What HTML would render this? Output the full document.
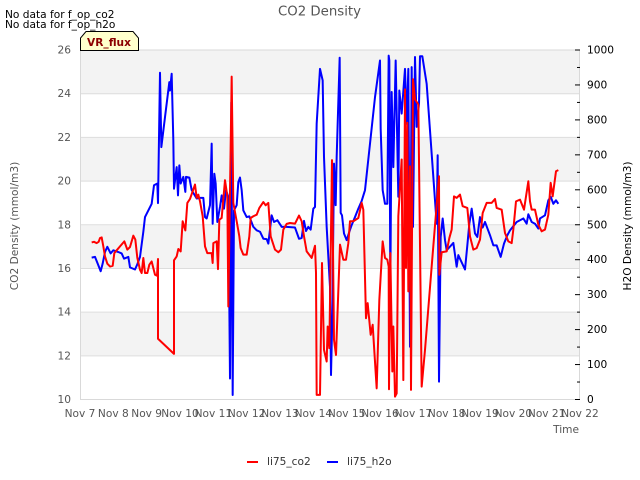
<!DOCTYPE html>
<html>
<head>
<meta charset="utf-8">
<title>CO2 Density</title>
<style>
html,body{margin:0;padding:0;background:#fff;width:640px;height:480px;overflow:hidden}
svg{display:block}
text{font-family:"DejaVu Sans","Liberation Sans",sans-serif;font-size:10.6px}
</style>
</head>
<body>
<svg id="chart" width="640" height="480" viewBox="0 0 640 480" xmlns="http://www.w3.org/2000/svg">
  <rect x="0" y="0" width="640" height="480" fill="#fff"/>
  <g id="bands"></g>
  <g id="grid"></g>
  <rect x="80.5" y="50" width="499" height="349.5" fill="none" stroke="#d9d9d9" stroke-width="1"/>
  <g id="right-ticks"></g>
  <g id="left-labels"></g>
  <g id="right-labels"></g>
  <g id="x-labels"></g>
  <path id="line-h2o" fill="none" stroke="#0000ff" stroke-width="2" stroke-linejoin="round"/>
  <path id="line-co2" fill="none" stroke="#ff0000" stroke-width="2" stroke-linejoin="round"/>
  <text x="319.5" y="15.5" text-anchor="middle" fill="#555555" style="font-size:13.3px">CO2 Density</text>
  <text x="5" y="18" fill="#000000">No data for f_op_co2</text>
  <text x="5" y="28" fill="#000000">No data for f_op_h2o</text>
  <g>
    <polygon points="80.5,50.5 80.5,38 86,31.5 133,31.5 138.5,38 138.5,50.5" fill="#ffffcc" stroke="#000000" stroke-width="1"/>
    <text x="109" y="46" text-anchor="middle" fill="#8b0000" style="font-weight:bold">VR_flux</text>
  </g>
  <text transform="translate(18,226) rotate(-90)" text-anchor="middle" fill="#555555">CO2 Density (mmol/m3)</text>
  <text transform="translate(631,226) rotate(-90)" text-anchor="middle" fill="#000000">H2O Density (mmol/m3)</text>
  <text x="579" y="433" text-anchor="end" fill="#555555">Time</text>
  <g>
    <g>
      <line x1="247" y1="462" x2="258" y2="462" stroke="#ff0000" stroke-width="2"/>
      <text x="267" y="465" fill="#333333">li75_co2</text>
    </g>
    <g>
      <line x1="327" y1="462" x2="338" y2="462" stroke="#0000ff" stroke-width="2"/>
      <text x="347" y="465" fill="#333333">li75_h2o</text>
    </g>
  </g>
</svg>
<script>
const xTickDays = [7,8,9,10,11,12,13,14,15,16,17,18,19,20,21,22];
const xTickLabels = ["Nov 7","Nov 8","Nov 9","Nov 10","Nov 11","Nov 12","Nov 13","Nov 14","Nov 15","Nov 16","Nov 17","Nov 18","Nov 19","Nov 20","Nov 21","Nov 22"];
const co2Ticks = [10,12,14,16,18,20,22,24,26];
const h2oMajorTicks = [0,100,200,300,400,500,600,700,800,900,1000];
const h2oMinorTicks = [50,150,250,350,450,550,650,750,850,950];

const co2Days = [7.35,7.42,7.50,7.56,7.60,7.65,7.70,7.75,7.82,7.90,7.98,8.03,8.10,8.20,8.33,8.42,8.50,8.60,8.66,8.72,8.80,8.85,8.90,8.95,9.02,9.08,9.15,9.25,9.31,9.34,9.34,9.82,9.82,9.90,9.95,10.02,10.08,10.16,10.22,10.30,10.45,10.50,10.55,10.60,10.68,10.75,10.82,10.95,10.98,11.00,11.10,11.14,11.18,11.25,11.35,11.42,11.45,11.55,11.60,11.70,11.78,11.82,11.90,12.00,12.08,12.12,12.20,12.30,12.38,12.50,12.57,12.65,12.72,12.85,12.95,13.03,13.10,13.20,13.30,13.45,13.57,13.65,13.72,13.80,13.95,14.05,14.08,14.10,14.20,14.26,14.32,14.40,14.43,14.48,14.56,14.62,14.68,14.80,14.90,14.98,15.05,15.10,15.20,15.35,15.45,15.50,15.58,15.63,15.72,15.78,15.90,15.98,16.08,16.15,16.22,16.26,16.27,16.31,16.37,16.40,16.45,16.50,16.55,16.65,16.70,16.75,16.78,16.82,16.85,16.90,16.93,16.99,17.05,17.15,17.25,17.35,17.55,17.77,17.78,17.85,18.00,18.08,18.15,18.22,18.30,18.40,18.48,18.62,18.70,18.80,18.90,19.00,19.08,19.20,19.35,19.45,19.50,19.65,19.75,19.85,19.95,20.00,20.08,20.20,20.32,20.45,20.50,20.55,20.65,20.75,20.85,20.95,21.05,21.12,21.18,21.28,21.35];
const co2Values = [17.19,17.22,17.16,17.22,17.39,17.42,17.01,16.55,16.22,16.09,16.12,16.70,16.83,17.01,17.24,16.86,16.98,17.50,17.32,16.48,15.94,15.79,16.48,15.79,15.79,16.17,16.32,15.71,15.67,16.43,12.78,12.09,16.37,16.55,16.89,16.78,18.16,17.74,19.00,19.18,19.84,19.23,19.38,19.07,18.39,17.01,16.70,16.70,16.25,17.16,17.24,15.97,18.23,18.31,20.04,19.30,14.26,24.78,19.00,18.16,17.47,16.93,16.63,16.63,17.47,18.31,18.39,18.46,18.77,19.04,18.89,19.00,17.47,16.86,16.74,16.86,17.78,18.04,18.08,18.05,18.42,18.16,17.47,16.78,16.48,17.04,15.79,10.21,10.21,16.25,12.27,11.74,13.34,12.35,20.96,12.73,12.04,17.09,16.40,16.40,17.16,18.16,18.16,18.31,19.00,18.69,13.72,14.41,12.96,13.42,10.51,14.56,17.24,16.48,16.40,16.09,10.47,16.70,11.28,13.34,10.13,10.28,18.39,20.99,10.89,24.20,16.02,22.67,14.95,20.68,10.44,24.66,23.74,23.51,10.59,12.27,16.09,20.22,15.71,16.74,16.78,17.39,17.78,19.30,19.23,19.38,18.85,18.77,17.47,16.86,16.93,17.32,18.54,19.00,19.00,19.18,18.77,18.69,17.62,17.24,17.16,17.78,19.07,19.15,18.69,19.99,19.07,18.69,18.69,18.00,17.70,17.78,18.46,19.92,19.30,20.45,20.50];

const h2oDays = [7.35,7.45,7.55,7.62,7.68,7.75,7.82,7.92,8.00,8.15,8.25,8.32,8.45,8.50,8.65,8.72,8.80,8.90,8.95,9.05,9.15,9.22,9.32,9.34,9.40,9.44,9.55,9.68,9.70,9.75,9.80,9.82,9.90,9.94,9.98,10.02,10.10,10.16,10.18,10.28,10.35,10.50,10.60,10.70,10.75,10.80,10.90,10.95,10.98,11.03,11.07,11.12,11.20,11.25,11.32,11.38,11.45,11.50,11.54,11.58,11.62,11.70,11.75,11.80,11.85,11.90,12.00,12.08,12.20,12.30,12.40,12.50,12.60,12.65,12.75,12.82,12.92,13.05,13.20,13.45,13.57,13.65,13.72,13.78,13.85,13.92,14.00,14.05,14.10,14.20,14.28,14.32,14.40,14.50,14.53,14.57,14.62,14.67,14.70,14.79,14.82,14.86,14.92,15.00,15.08,15.15,15.25,15.35,15.45,15.55,15.70,15.85,16.00,16.02,16.08,16.15,16.22,16.26,16.28,16.31,16.35,16.40,16.47,16.55,16.58,16.65,16.75,16.80,16.85,16.90,16.95,16.99,17.05,17.10,17.17,17.20,17.27,17.40,17.55,17.70,17.73,17.77,17.82,17.88,17.95,18.00,18.20,18.30,18.35,18.55,18.62,18.68,18.75,18.85,18.92,19.00,19.08,19.15,19.30,19.40,19.50,19.62,19.72,19.82,19.90,20.10,20.30,20.40,20.45,20.55,20.65,20.75,20.80,20.95,21.05,21.12,21.20,21.28,21.35];
const h2oValues = [406,408,384,367,389,422,437,418,427,422,418,403,408,378,372,387,408,480,522,541,560,613,618,562,935,722,808,908,884,932,741,603,665,584,670,618,637,594,637,635,599,575,577,577,522,518,556,732,503,646,618,508,551,584,546,599,580,60,850,13,541,556,622,635,599,541,522,524,494,484,480,460,459,446,527,508,513,494,494,492,460,462,511,482,494,486,546,551,789,946,913,694,494,322,70,237,675,556,694,978,534,527,475,456,480,499,522,546,568,599,732,865,970,775,599,560,560,984,970,313,880,665,970,580,884,818,946,789,946,151,951,494,980,780,846,982,982,903,703,503,699,51,465,518,456,427,448,380,413,372,441,503,546,475,465,522,492,508,470,441,441,408,446,470,484,508,518,503,530,508,503,489,518,527,570,580,560,570,560];

const SVGNS = 'http://www.w3.org/2000/svg';
const plotLeft = 80, plotRight = 580, plotTop = 50, plotBottom = 399.5;
function xScale(day){ return plotLeft + (day - 7) * (plotRight - plotLeft) / 15; }
function yCo2(v){ return plotBottom - (v - 10) * (plotBottom - plotTop) / 16; }
function yH2o(v){ return plotBottom - v * (plotBottom - plotTop) / 1000; }
function node(tag, parentId){
  const el = document.createElementNS(SVGNS, tag);
  document.getElementById(parentId).appendChild(el);
  return el;
}
function pathFrom(days, values, yFn){
  return days.map(function(d, i){
    return (i ? 'L' : 'M') + xScale(d).toFixed(2) + ' ' + yFn(values[i]).toFixed(2);
  }).join('');
}

co2Ticks.forEach(function(t, i){
  if (i < co2Ticks.length - 1 && i % 2 === 1) {
    const band = node('rect', 'bands');
    
    
    band.setAttribute('x', plotLeft);
    band.setAttribute('y', yCo2(co2Ticks[i + 1]));
    band.setAttribute('width', plotRight - plotLeft);
    band.setAttribute('height', yCo2(t) - yCo2(co2Ticks[i + 1]));
    band.setAttribute('fill', '#f3f3f3');
  }
  const grid = node('line', 'grid');
  
  
  grid.setAttribute('x1', plotLeft);
  grid.setAttribute('x2', plotRight);
  grid.setAttribute('y1', yCo2(t));
  grid.setAttribute('y2', yCo2(t));
  grid.setAttribute('stroke', '#dddddd');
  grid.setAttribute('stroke-width', '1');
  const label = node('text', 'left-labels');
  
  
  label.setAttribute('x', 71);
  label.setAttribute('y', yCo2(t) + 3.5);
  label.setAttribute('text-anchor', 'end');
  label.setAttribute('fill', '#555555');
  label.textContent = String(t);
});

h2oMajorTicks.forEach(function(t){
  const tick = node('line', 'right-ticks');
  
  
  tick.setAttribute('x1', 575);
  tick.setAttribute('x2', 580);
  tick.setAttribute('y1', yH2o(t));
  tick.setAttribute('y2', yH2o(t));
  tick.setAttribute('stroke', '#000000');
  tick.setAttribute('stroke-width', '1');
  const label = node('text', 'right-labels');
  
  
  label.setAttribute('x', 587);
  label.setAttribute('y', yH2o(t) + 3.5);
  label.setAttribute('fill', '#000000');
  label.textContent = String(t);
});

h2oMinorTicks.forEach(function(t){
  const tick = node('line', 'right-ticks');
  
  
  tick.setAttribute('x1', 577);
  tick.setAttribute('x2', 580);
  tick.setAttribute('y1', yH2o(t));
  tick.setAttribute('y2', yH2o(t));
  tick.setAttribute('stroke', '#000000');
  tick.setAttribute('stroke-width', '1');
});

xTickDays.forEach(function(d, i){
  const label = node('text', 'x-labels');
  
  
  label.setAttribute('x', xScale(d));
  label.setAttribute('y', 417);
  label.setAttribute('text-anchor', 'middle');
  label.setAttribute('fill', '#555555');
  label.textContent = xTickLabels[i];
});

document.getElementById('line-co2').setAttribute('d', pathFrom(co2Days, co2Values, yCo2));
document.getElementById('line-h2o').setAttribute('d', pathFrom(h2oDays, h2oValues, yH2o));
</script>
</body>
</html>
